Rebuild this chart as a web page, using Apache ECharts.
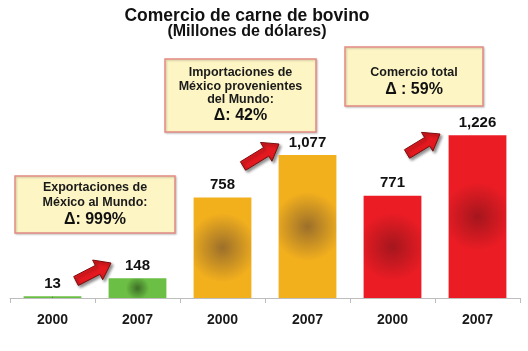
<!DOCTYPE html>
<html>
<head>
<meta charset="utf-8">
<script src="https://cdn.jsdelivr.net/npm/echarts@6/dist/echarts.min.js"></script>
<style>html,body{margin:0;padding:0;background:#fff}#c{width:528px;height:351px}</style>
</head>
<body>
<div id="c"></div>
<script>
var categories = ['2000', '2007', '2000', '2007', '2000', '2007'];
var values = [13, 148, 758, 1077, 771, 1226];
var groups = ['exp', 'exp', 'imp', 'imp', 'tot', 'tot'];
var titleLines = ['Comercio de carne de bovino', '(Millones de dólares)'];
var notes = [
  {lines: ['Exportaciones de', 'México al Mundo:'], delta: 'Δ: 999%'},
  {lines: ['Importaciones de', 'México provenientes', 'del Mundo:'], delta: 'Δ: 42%'},
  {lines: ['Comercio total'], delta: 'Δ : 59%'}
];

var palette = {
  exp: ['#3d6e26', '#6cbf45'],
  imp: ['#9c6f2a', '#f3b01d'],
  tot: ['#a5161d', '#ec1c24']
};
function grad(g) {
  var c = palette[g];
  return {type: 'radial', x: 0.5, y: 0.5, r: 0.6, colorStops: [
    {offset: 0, color: c[0]}, {offset: 1, color: c[1]}]};
}
var chart = echarts.init(document.getElementById('c'), null, {renderer: 'canvas'});
var FONT = '"Liberation Sans", Arial, sans-serif';

function arrow(x1, y1, x2, y2) {
  var dx = x2 - x1, dy = y2 - y1, L = Math.sqrt(dx * dx + dy * dy);
  var ux = dx / L, uy = dy / L, nx = -uy, ny = ux;
  var sw = 5, hw = 11, hl = 15;
  var bx = x2 - ux * hl, by = y2 - uy * hl;
  var pts = [
    [x1 + nx * sw, y1 + ny * sw], [bx + nx * sw, by + ny * sw], [bx + nx * hw, by + ny * hw],
    [x2, y2], [bx - nx * hw, by - ny * hw], [bx - nx * sw, by - ny * sw], [x1 - nx * sw, y1 - ny * sw]
  ];
  return {type: 'polygon', shape: {points: pts},
    style: {fill: '#e3191f', stroke: '#7a0c0c', lineWidth: 1,
      shadowBlur: 3, shadowColor: 'rgba(0,0,0,0.45)', shadowOffsetX: 2, shadowOffsetY: 2}};
}

function box(x, y, w, h, note, lineH, firstY) {
  var els = [{type: 'rect', shape: {x: x, y: y, width: w, height: h},
    style: {fill: '#fdf5c4', stroke: '#e58a84', lineWidth: 1.5,
      shadowBlur: 2, shadowColor: 'rgba(0,0,0,0.2)', shadowOffsetX: 1, shadowOffsetY: 1}}];
  var cy = firstY;
  note.lines.forEach(function (t) {
    els.push({type: 'text', style: {text: t, x: x + w / 2, y: cy, align: 'center', verticalAlign: 'middle',
      font: 'bold 12.5px ' + FONT, fill: '#1a1a1a'}});
    cy += lineH;
  });
  els.push({type: 'text', style: {text: note.delta, x: x + w / 2, y: cy + 2, align: 'center', verticalAlign: 'middle',
    font: 'bold 16px ' + FONT, fill: '#111'}});
  return els;
}

var graphics = [
  {type: 'text', style: {text: titleLines[0], x: 247, y: 16, align: 'center', verticalAlign: 'middle',
    font: 'bold 17.5px ' + FONT, fill: '#111'}},
  {type: 'text', style: {text: titleLines[1], x: 247, y: 32, align: 'center', verticalAlign: 'middle',
    font: 'bold 16px ' + FONT, fill: '#111'}}
];
graphics = graphics.concat(box(15, 176, 160, 57, notes[0], 15, 188));
graphics = graphics.concat(box(165, 59, 151, 73, notes[1], 13.5, 73));
graphics = graphics.concat(box(345, 47, 138, 59, notes[2], 15, 73));
graphics.push(arrow(76, 281, 111, 263));
graphics.push(arrow(243, 166, 279, 144));
graphics.push(arrow(407, 154, 440, 134));

chart.setOption({
  animation: false,
  grid: {left: 10, right: 8, top: 99, bottom: 53},
  xAxis: {
    type: 'category', data: categories,
    axisLine: {lineStyle: {color: '#bdbdbd'}},
    axisTick: {show: true, length: 5, lineStyle: {color: '#bdbdbd'}},
    axisLabel: {fontFamily: FONT, fontWeight: 'bold', fontSize: 14, color: '#1a1a1a', margin: 15}
  },
  yAxis: {type: 'value', min: 0, max: 1500, show: false, splitLine: {show: false}},
  series: [{
    type: 'bar', barWidth: '68%',
    data: values.map(function (v, i) { return {value: v, itemStyle: {color: grad(groups[i])}}; }),
    label: {show: true, position: 'top', distance: 5, fontFamily: FONT, fontWeight: 'bold', fontSize: 15,
      color: '#111', formatter: function (p) { return p.value.toLocaleString('en-US'); }}
  }],
  graphic: graphics
});
</script>
</body>
</html>
